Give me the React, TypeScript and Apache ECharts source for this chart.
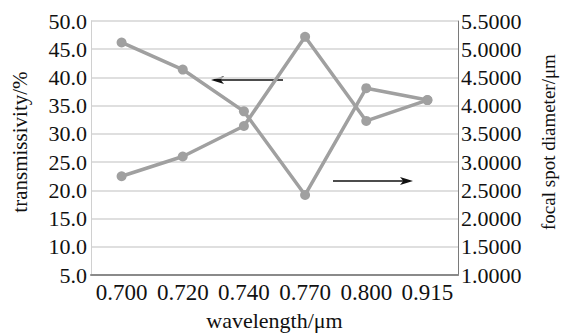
import React, { useEffect, useRef } from "react";
import * as echarts from "echarts";

const wavelengths = ["0.700", "0.720", "0.740", "0.770", "0.800", "0.915"];
const transmissivity = [22.5, 26.0, 31.4, 47.2, 32.3, 36.0];
const spotDiameter = [5.12, 4.64, 3.9, 2.42, 4.31, 4.1];

const FONT = "Liberation Serif";
const LINE_GRAY = "#a0a0a0";

export default function App() {
  const ref = useRef<HTMLDivElement>(null);

  useEffect(() => {
    if (!ref.current) return;
    document.body.style.margin = "0";
    const chart = echarts.init(ref.current, undefined, { renderer: "svg" });

    // horizontal black arrow with a notched head pointing at x2
    const arrow = (x1: number, x2: number, y: number) => {
      const dir = x2 > x1 ? 1 : -1;
      const head = 13;
      return {
        type: "group",
        children: [
          {
            type: "line",
            shape: { x1, y1: y, x2: x2 - dir * head * 0.6, y2: y },
            style: { stroke: "#111", lineWidth: 1.6 },
          },
          {
            type: "polygon",
            shape: {
              points: [
                [x2, y],
                [x2 - dir * head, y - 4],
                [x2 - dir * head * 0.75, y],
                [x2 - dir * head, y + 4],
              ],
            },
            style: { fill: "#111" },
          },
        ],
      };
    };

    chart.setOption({
      animation: false,
      backgroundColor: "#fff",
      textStyle: { fontFamily: FONT },
      grid: { left: 91, right: 95, top: 21, bottom: 51, containLabel: false },
      xAxis: {
        type: "category",
        data: wavelengths,
        boundaryGap: true,
        name: "wavelength/μm",
        nameLocation: "middle",
        nameGap: 30,
        nameTextStyle: { fontFamily: FONT, fontSize: 22, color: "#111" },
        axisLine: { show: true, lineStyle: { color: "#8a8a8a", width: 2 } },
        axisTick: { show: false },
        axisLabel: {
          fontFamily: FONT,
          fontSize: 23,
          color: "#111",
          margin: 6,
          interval: 0,
          hideOverlap: false,
        },
        splitLine: { show: false },
      },
      yAxis: [
        {
          type: "value",
          min: 5,
          max: 50,
          interval: 5,
          name: "transmissivity/%",
          nameLocation: "middle",
          nameGap: 61,
          nameTextStyle: {
            fontFamily: FONT,
            fontSize: 21,
            color: "#111",
            padding: [0, 0, 0, 12],
          },
          axisLine: { show: true, lineStyle: { color: "#d0d0d0", width: 1 } },
          axisTick: { show: false },
          axisLabel: {
            fontFamily: FONT,
            fontSize: 22,
            color: "#111",
            margin: 4,
            formatter: (v: number) => v.toFixed(1),
          },
          splitLine: { show: true, lineStyle: { color: "#d4d4d4", width: 1.5 } },
        },
        {
          type: "value",
          min: 1,
          max: 5.5,
          interval: 0.5,
          position: "right",
          name: "focal spot diameter/μm",
          nameLocation: "middle",
          nameGap: 81,
          nameTextStyle: {
            fontFamily: FONT,
            fontSize: 19,
            color: "#111",
            padding: [0, 0, 0, 12],
          },
          axisLine: { show: true, lineStyle: { color: "#7a7a7a", width: 1 } },
          axisTick: { show: false },
          axisLabel: {
            fontFamily: FONT,
            fontSize: 22,
            color: "#111",
            margin: 3,
            formatter: (v: number) => v.toFixed(4),
          },
          splitLine: { show: false },
        },
      ],
      series: [
        {
          name: "transmissivity",
          type: "line",
          yAxisIndex: 0,
          data: transmissivity,
          symbol: "circle",
          symbolSize: 10,
          lineStyle: { color: LINE_GRAY, width: 3.5 },
          itemStyle: { color: LINE_GRAY },
        },
        {
          name: "focal spot diameter",
          type: "line",
          yAxisIndex: 1,
          data: spotDiameter,
          symbol: "circle",
          symbolSize: 10,
          lineStyle: { color: LINE_GRAY, width: 3.5 },
          itemStyle: { color: LINE_GRAY },
        },
      ],
      graphic: [arrow(283, 211, 80), arrow(333, 413, 181)],
    });

    return () => chart.dispose();
  }, []);

  return <div ref={ref} style={{ width: 566, height: 336 }} />;
}
